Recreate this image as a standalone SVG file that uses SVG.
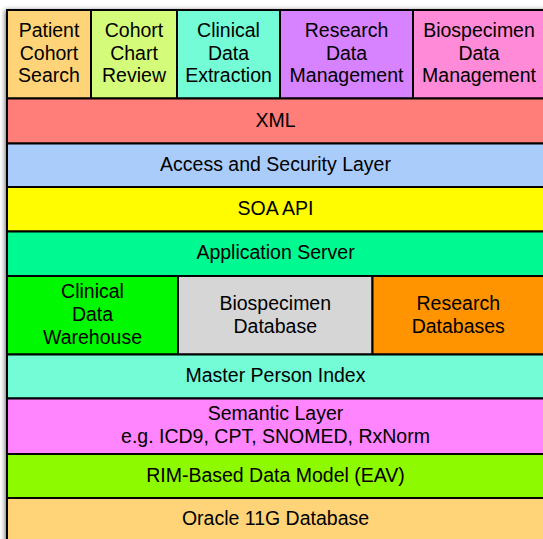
<svg xmlns="http://www.w3.org/2000/svg" width="543" height="539" viewBox="0 0 543 539">
  <defs>
    <filter id="shadow" x="-5%" y="-5%" width="110%" height="110%">
      <feGaussianBlur in="SourceAlpha" stdDeviation="2.5"/>
      <feOffset dx="-2" dy="0" result="b"/>
      <feComponentTransfer><feFuncA type="linear" slope="0.55"/></feComponentTransfer>
    </filter>
  </defs>
  <style>
    .box { stroke: #000; stroke-width: 2; }
    text { font-family: "Liberation Sans", Arial, Helvetica, sans-serif; font-size: 19.5px; fill: #000; text-anchor: middle; }
  </style>
  <rect x="0" y="0" width="543" height="539" fill="#ffffff"/>
  <rect x="7" y="10" width="545" height="540" fill="#000" filter="url(#shadow)"/>

  <g id="patient-cohort-search">
    <rect class="box" x="7" y="10" width="84" height="88.5" fill="#FFD479"/>
    <text x="49" y="37">Patient</text>
    <text x="49" y="59.5">Cohort</text>
    <text x="49" y="82">Search</text>
  </g>
  <g id="cohort-chart-review">
    <rect class="box" x="91" y="10" width="86" height="88.5" fill="#D4FB79"/>
    <text x="134" y="37">Cohort</text>
    <text x="134" y="59.5">Chart</text>
    <text x="134" y="82">Review</text>
  </g>
  <g id="clinical-data-extraction">
    <rect class="box" x="177" y="10" width="103" height="88.5" fill="#73FCD6"/>
    <text x="228.5" y="37">Clinical</text>
    <text x="228.5" y="59.5">Data</text>
    <text x="228.5" y="82">Extraction</text>
  </g>
  <g id="research-data-management">
    <rect class="box" x="280" y="10" width="133" height="88.5" fill="#D783FF"/>
    <text x="346.5" y="37">Research</text>
    <text x="346.5" y="59.5">Data</text>
    <text x="346.5" y="82">Management</text>
  </g>
  <g id="biospecimen-data-management">
    <rect class="box" x="413" y="10" width="140" height="88.5" fill="#FF8AD8"/>
    <text x="479" y="37">Biospecimen</text>
    <text x="479" y="59.5">Data</text>
    <text x="479" y="82">Management</text>
  </g>

  <g id="xml">
    <rect class="box" x="7" y="98.5" width="546" height="45" fill="#FF7E79"/>
    <text x="275.5" y="126.5">XML</text>
  </g>
  <g id="access-security-layer">
    <rect class="box" x="7" y="143.5" width="546" height="43.5" fill="#A9CCFB"/>
    <text x="275.5" y="170.75">Access and Security Layer</text>
  </g>
  <g id="soa-api">
    <rect class="box" x="7" y="187" width="546" height="44.5" fill="#FFFB00"/>
    <text x="275.5" y="214.5">SOA API</text>
  </g>
  <g id="application-server">
    <rect class="box" x="7" y="231.5" width="546" height="44.5" fill="#00FA92"/>
    <text x="275.5" y="259">Application Server</text>
  </g>

  <g id="clinical-data-warehouse">
    <rect class="box" x="7" y="276" width="171" height="78.5" fill="#00F900"/>
    <text x="92.5" y="297.5">Clinical</text>
    <text x="92.5" y="320.5">Data</text>
    <text x="92.5" y="343.5">Warehouse</text>
  </g>
  <g id="biospecimen-database">
    <rect class="box" x="178" y="276" width="194.5" height="78.5" fill="#D6D6D6"/>
    <text x="275.25" y="310">Biospecimen</text>
    <text x="275.25" y="332.7">Database</text>
  </g>
  <g id="research-databases">
    <rect class="box" x="372.5" y="276" width="180.5" height="78.5" fill="#FF9300"/>
    <text x="458.25" y="310">Research</text>
    <text x="458.25" y="332.7">Databases</text>
  </g>

  <g id="master-person-index">
    <rect class="box" x="7" y="354.5" width="546" height="44" fill="#73FCD6"/>
    <text x="275.5" y="382">Master Person Index</text>
  </g>
  <g id="semantic-layer">
    <rect class="box" x="7" y="398.5" width="546" height="55.5" fill="#FF85FF"/>
    <text x="275.5" y="419.5">Semantic Layer</text>
    <text x="275.5" y="442.7">e.g. ICD9, CPT, SNOMED, RxNorm</text>
  </g>
  <g id="rim-data-model">
    <rect class="box" x="7" y="454" width="546" height="44" fill="#8EFA00"/>
    <text x="275.5" y="481.5">RIM-Based Data Model (EAV)</text>
  </g>
  <g id="oracle-database">
    <rect class="box" x="7" y="498" width="546" height="52" fill="#FFD479"/>
    <text x="275.5" y="525">Oracle 11G Database</text>
  </g>
  <g id="connectors"></g>
</svg>
